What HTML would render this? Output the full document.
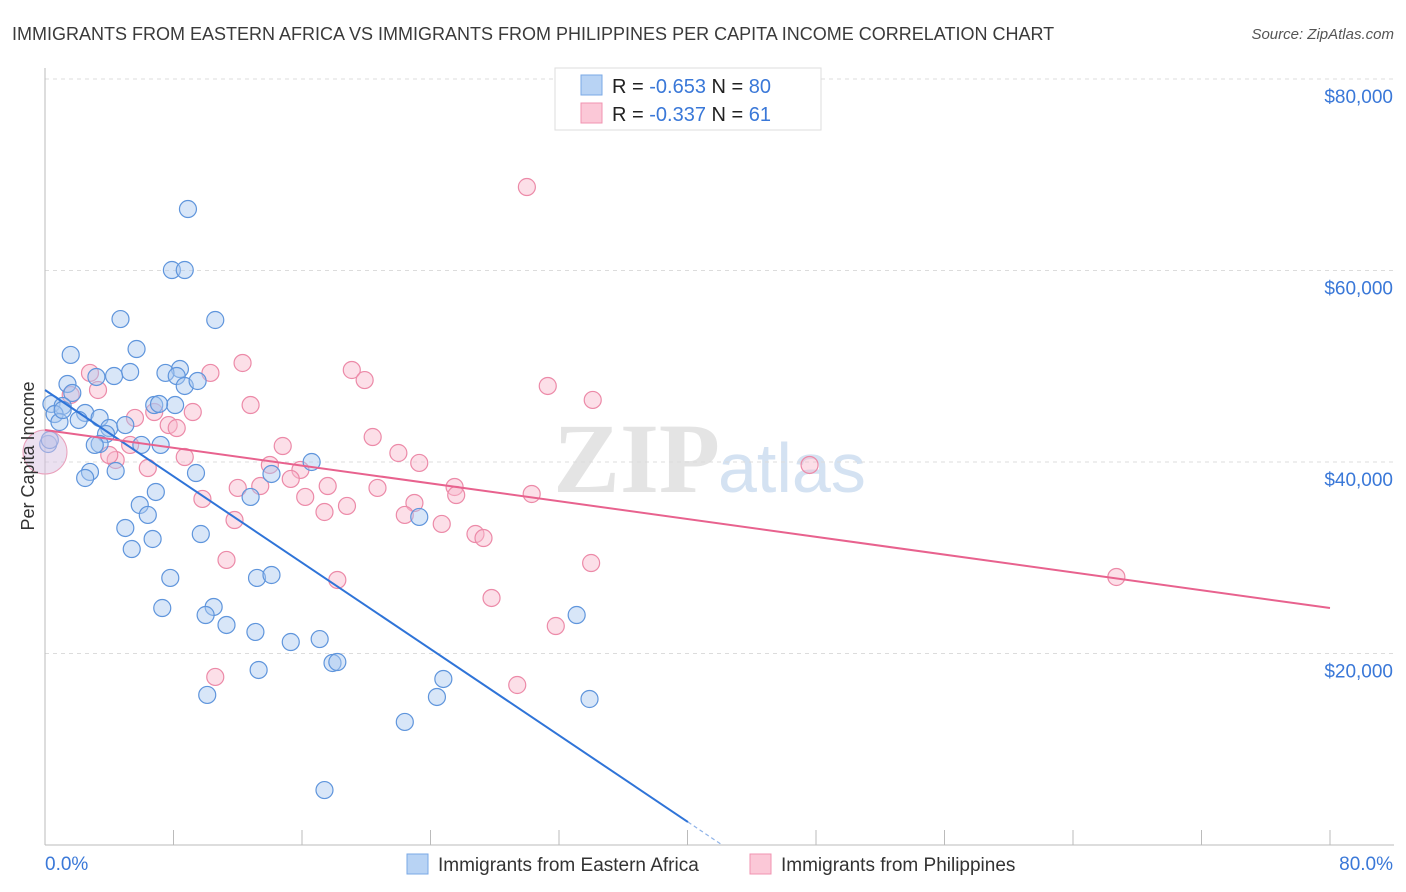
<!DOCTYPE html>
<html><head><meta charset="utf-8"><style>
body{margin:0;background:#fff;font-family:"Liberation Sans",sans-serif}
svg{display:block}
</style></head><body>
<svg width="1406" height="892" xmlns="http://www.w3.org/2000/svg">
<text x="12" y="40" font-size="18" fill="#3a3a3a">IMMIGRANTS FROM EASTERN AFRICA VS IMMIGRANTS FROM PHILIPPINES PER CAPITA INCOME CORRELATION CHART</text>
<text x="1394" y="39" font-size="15" fill="#555" text-anchor="end" font-style="italic">Source: ZipAtlas.com</text>
<text x="720" y="492" font-size="100" fill="#e4e4e4" text-anchor="end" font-family="Liberation Serif,serif" font-weight="bold">ZIP</text>
<text x="718" y="492" font-size="70" fill="#d4e2f2">atlas</text>
<g id="grid"></g>
<g id="axes"></g>
<g id="pts"></g>
<g id="lines"></g>
<text transform="translate(34,456) rotate(-90)" font-size="18" fill="#333" text-anchor="middle">Per Capita Income</text>
<g>
<rect x="555" y="68" width="266" height="62" fill="#fff" stroke="#ddd"/>
<rect x="581" y="75" width="21" height="20" fill="#b8d3f4" stroke="#7aa8e6"/>
<rect x="581" y="103" width="21" height="20" fill="#fbc8d7" stroke="#f093b0"/>
<text x="612" y="93" font-size="20" fill="#222">R = <tspan fill="#3a78d8">-0.653</tspan>   N = <tspan fill="#3a78d8">80</tspan></text>
<text x="612" y="121" font-size="20" fill="#222">R = <tspan fill="#3a78d8">-0.337</tspan>   N = <tspan fill="#3a78d8"> 61</tspan></text>
</g>
<g>
<rect x="407" y="854" width="21" height="20" fill="#b8d3f4" stroke="#7aa8e6"/>
<text x="438" y="871" font-size="19" fill="#333">Immigrants from Eastern Africa</text>
<rect x="750" y="854" width="21" height="20" fill="#fbc8d7" stroke="#f093b0"/>
<text x="781" y="871" font-size="19" fill="#333">Immigrants from Philippines</text>
</g>
</svg>
<script>
const yTicks=[20000,40000,60000,80000];
const yTickLabels=["$20,000","$40,000","$60,000","$80,000"];
const xEndLabels=["0.0%","80.0%"];
const blueX=[8.9,7.9,8.7,4.7,10.6,1.6,5.7,8.4,7.5,5.3,4.3,8.2,1.4,8.7,9.5,3.2,1.7,0.4,1.1,6.8,8.1,7.1,0.6,2.5,3.4,0.9,2.1,4.0,3.8,5.0,6.0,7.2,3.4,3.1,0.2,9.4,16.6,14.1,2.8,2.5,4.4,6.9,12.8,5.9,6.4,23.3,5.0,6.7,9.7,5.4,7.8,13.2,14.1,7.3,10.5,10.0,11.3,33.1,13.1,15.3,17.1,17.9,18.2,13.3,24.8,10.1,24.4,33.9,22.4,17.4,0.3,1.1];
const blueY=[66420,60050,60050,54930,54830,51180,51800,49710,49300,49400,48980,48980,48150,47940,48460,48880,47210,46060,45850,45950,45950,46060,45010,45120,44600,44180,44390,43550,42920,43860,41780,41780,41880,41780,41880,38850,40000,38750,38960,38330,39060,36870,36350,35510,34470,34260,33110,31960,32480,30910,27890,27890,28200,24750,24860,24020,22980,24020,22250,21200,21510,19010,19110,18280,17340,15670,15460,15250,12850,5740,42300,45430];
const pinkX=[30.0,12.3,2.8,10.3,19.1,19.9,31.3,34.1,3.3,1.6,12.8,9.2,6.8,7.7,8.2,5.6,20.4,14.8,22.0,23.3,8.7,14.0,15.9,4.4,6.4,15.3,17.6,20.7,25.5,30.3,25.6,47.6,12.0,13.4,9.8,16.2,18.8,23.0,22.4,17.4,11.8,24.7,26.8,27.3,11.3,34.0,18.2,66.7,27.8,31.8,10.6,29.4,5.3,4.0];
const pinkY=[68720,50340,49300,49300,49610,48560,47940,46480,47520,47000,45950,45220,45220,43860,43550,44600,42610,41670,40940,39900,40520,39690,39170,40210,39370,38230,37490,37290,37390,36660,36550,39690,37290,37490,36140,36350,35410,35720,34470,34780,33940,33530,32480,32060,29770,29450,27680,27990,25800,22870,17550,16710,41780,40730];
const blueLine=[[0,47520],[40.03,2400]];
const pinkLine=[[0,43340],[80,24750]];
const NS="http://www.w3.org/2000/svg";
const X=v=>45+v/80*1285;
const Y=v=>845-v/20000*191.5;
function mk(t,a,p){const e=document.createElementNS(NS,t);for(const k in a)e.setAttribute(k,a[k]);document.getElementById(p).appendChild(e);return e;}
yTicks.forEach((t,i)=>{
 const l=mk('line',{x1:45,x2:1394,y1:Y(t),y2:Y(t),stroke:'#dcdcdc','stroke-dasharray':'4,4'},'grid');
 
 
 const tx=mk('text',{x:1393,y:Y(t)+24,'font-size':19,fill:'#3a78d8','text-anchor':'end'},'axes');
 tx.textContent=yTickLabels[i];
 
 
});
const ax=mk('line',{x1:45,x2:1394,y1:845,y2:845,stroke:'#bbb'},'axes');


const ay=mk('line',{x1:45,x2:45,y1:68,y2:845,stroke:'#bbb'},'axes');


for(let p=0;p<=80;p+=8){
 const t=mk('line',{x1:X(p),x2:X(p),y1:830,y2:845,stroke:'#bbb'},'axes');
 
 
}
[[0,'start'],[80,'end']].forEach((d,i)=>{
 const t=mk('text',{x:X(d[0])+(i?63:0),y:870,'font-size':19,fill:'#3a78d8','text-anchor':d[1]},'axes');
 t.textContent=xEndLabels[i];
 
 
});
function pts(xs,ys,fill,stroke,name){
 xs.forEach((x,i)=>{
  const c=mk('circle',{cx:X(x),cy:Y(ys[i]),r:8.5,fill:fill,'fill-opacity':0.45,stroke:stroke,'stroke-width':1.2},'pts');
  
  
 });
}
pts(pinkX,pinkY,'#f8b8cb','#ec8aa8','pink-point');
pts(blueX,blueY,'#a9c8f0','#5f95dc','blue-point');
const big=mk('circle',{cx:X(0),cy:Y(41040),r:22,fill:'#d7c2e2','fill-opacity':0.5,stroke:'#e9a0bb'},'pts');


const bl=mk('line',{x1:X(blueLine[0][0]),y1:Y(blueLine[0][1]),x2:X(blueLine[1][0]),y2:Y(blueLine[1][1]),stroke:'#2f74d8','stroke-width':2},'lines');


const slope=(blueLine[1][1]-blueLine[0][1])/(blueLine[1][0]-blueLine[0][0]);
const xz=blueLine[0][0]-blueLine[0][1]/slope;
const bd=mk('line',{x1:X(blueLine[1][0]),y1:Y(blueLine[1][1]),x2:X(xz),y2:Y(0),stroke:'#8fb3e8','stroke-width':1.2,'stroke-dasharray':'4,3'},'lines');


const pl=mk('line',{x1:X(pinkLine[0][0]),y1:Y(pinkLine[0][1]),x2:X(pinkLine[1][0]),y2:Y(pinkLine[1][1]),stroke:'#e8628e','stroke-width':2},'lines');


</script>
</body></html>
